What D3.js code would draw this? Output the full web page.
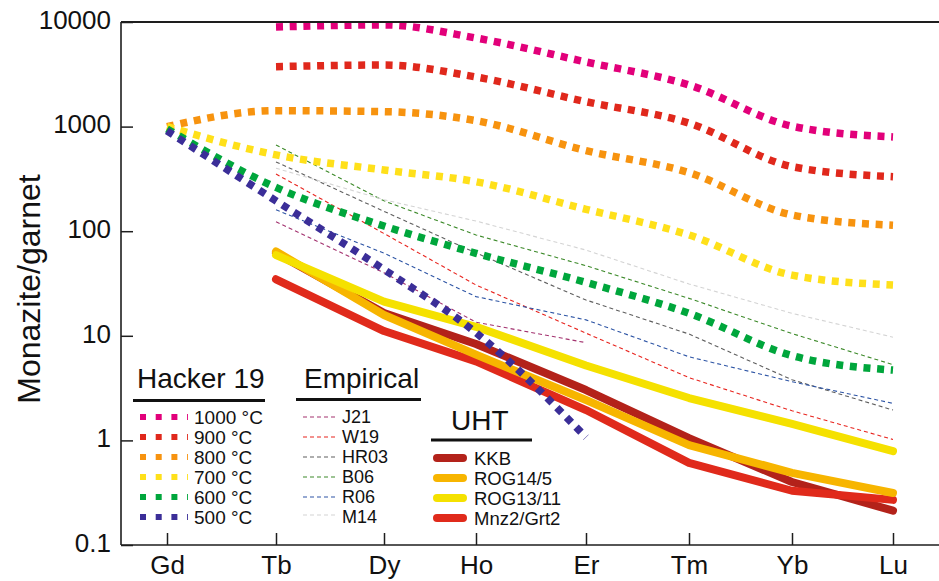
<!DOCTYPE html>
<html>
<head>
<meta charset="utf-8">
<script src="https://cdn.jsdelivr.net/npm/d3@7/dist/d3.min.js"></script>
<style>
  html, body { margin: 0; padding: 0; background: #fff; }
  svg { display: block; font-family: "Liberation Sans", Arial, Helvetica, sans-serif; }
</style>
</head>
<body>
<script>
// ---------------- DATA ----------------
const elements = ["Gd", "Tb", "Dy", "Ho", "Er", "Tm", "Yb", "Lu"];
const yTickValues = [0.1, 1, 10, 100, 1000, 10000];
const yTickLabels = ["0.1", "1", "10", "100", "1000", "10000"];

// Hacker 19 (dotted)
const hackerNames = ["1000 °C", "900 °C", "800 °C", "700 °C", "600 °C", "500 °C"];
const hackerColors = ["#e2007a", "#e0281c", "#f7930f", "#ffe01a", "#00a63c", "#3b2e98"];
const h1000 = [null, 8960, 9380, 7030, 4150, 2500, 1010, 796];
const h900  = [null, 3740, 3880, 2980, 1730, 1080, 414, 332];
const h800  = [1000, 1420, 1390, 1140, 589, 363, 143, 114];
const h700  = [1000, 536, 385, 297, 162, 92, 38, 30.6];
const h600  = [950, 262, 112, 61.5, 32.4, 16.4, 6.46, 4.7];
const h500  = [910, 195, 43, 10.7, 1.07, null, null, null];
const hackerValues = [h1000, h900, h800, h700, h600, h500];

// Empirical (thin dashed)
const empNames = ["J21", "W19", "HR03", "B06", "R06", "M14"];
const empColors = ["#a3326f", "#e8251f", "#5f5f5f", "#3d8a2a", "#2e55a5", "#d4d4d4"];
const eJ21  = [null, 123, 40, 13.5, 8.6, null, null, null];
const eW19  = [null, 352, 95, 30.6, 10.6, 3.98, 1.92, 1.02];
const eHR03 = [null, 460, 155, 62, 22, 10.4, 3.8, 1.95];
const eB06  = [null, 667, 195, 92, 46.8, 22.8, 10.5, 5.3];
const eR06  = [null, 160, 61.6, 23.7, 14.2, 6.3, 3.64, 2.26];
const eM14  = [null, 400, 200, 125, 66, 31.3, 16.4, 9.7];
const empValues = [eJ21, eW19, eHR03, eB06, eR06, eM14];

// UHT (thick solid)
const uhtNames = ["KKB", "ROG14/5", "ROG13/11", "Mnz2/Grt2"];
const uhtColors = ["#b3221a", "#f7b500", "#f5e100", "#e02a1b"];
const uKKB  = [null, 62, 16.5, 8.35, 3.03, 1.05, 0.40, 0.213];
const uR145 = [null, 64, 15.8, 6.6, 2.43, 0.90, 0.49, 0.314];
const uR1311= [null, 59, 21.2, 12.2, 5.2, 2.54, 1.44, 0.79];
const uMnz2 = [null, 34.7, 11.1, 5.7, 1.95, 0.61, 0.33, 0.27];
const uhtValues = [uKKB, uR145, uR1311, uMnz2];

// ---------------- LAYOUT ----------------
const W = 939, H = 581;
const plotLeft = 121, plotTop = 22, plotBottom = 545, plotRight = 939;
const tickX = [167, 276, 384, 476, 586, 689, 792, 893];
const FONT = '"Liberation Sans", Arial, Helvetica, sans-serif';
const AXIS_COLOR = "#1e1e1e";

const svg = d3.select("body").append("svg").attr("width", W).attr("height", H);

const x = d3.scaleOrdinal().domain(elements).range(tickX);
const y = d3.scaleLog().domain([0.1, 10000]).range([plotBottom, plotTop]);

const toPts = vals => elements.map((e, i) => ({ e, v: vals[i] }));
const lineLinear = d3.line().defined(d => d.v != null).x(d => x(d.e)).y(d => y(d.v));
const lineSmooth = d3.line().defined(d => d.v != null).x(d => x(d.e)).y(d => y(d.v)).curve(d3.curveMonotoneX);

// ---- Empirical lines ----
const gEmp = svg.append("g");
empValues.forEach((vals, i) => {
  gEmp.append("path").datum(toPts(vals))
    .attr("d", lineLinear)
    .attr("fill", "none")
    .attr("stroke", empColors[i])
    .attr("stroke-width", 1.1)
    .attr("stroke-dasharray", "4,3");
});

// ---- UHT lines ----
const gUht = svg.append("g");
[0, 3, 1, 2].forEach(i => {
  gUht.append("path").datum(toPts(uhtValues[i]))
    .attr("d", lineLinear)
    .attr("fill", "none")
    .attr("stroke", uhtColors[i])
    .attr("stroke-width", 8)
    .attr("stroke-linecap", "round")
    .attr("stroke-linejoin", "round");
});

// ---- Hacker dotted lines ----
const gHack = svg.append("g");
hackerValues.forEach((vals, i) => {
  gHack.append("path").datum(toPts(vals))
    .attr("d", lineSmooth)
    .attr("fill", "none")
    .attr("stroke", hackerColors[i])
    .attr("stroke-width", 7.5)
    .attr("stroke-dasharray", "7,6.7");
});

// ---- Axes ----
const yAxis = d3.axisLeft(y)
  .tickValues(yTickValues)
  .tickFormat((d, i) => yTickLabels[i])
  .tickSizeInner(-12).tickSizeOuter(0).tickPadding(10);
const gy = svg.append("g").attr("transform", `translate(${plotLeft},0)`).call(yAxis);
gy.select(".domain").remove();
gy.selectAll(".tick line").attr("stroke", AXIS_COLOR).attr("stroke-width", 1.5);
gy.selectAll(".tick text").attr("font-size", 26).attr("font-family", FONT).attr("fill", "#111").attr("dy", "0.24em");

const xAxis = d3.axisBottom(x).tickSizeInner(-12).tickSizeOuter(0).tickPadding(11);
const gx = svg.append("g").attr("transform", `translate(0,${plotBottom})`).call(xAxis);
gx.select(".domain").remove();
gx.selectAll(".tick line").attr("stroke", AXIS_COLOR).attr("stroke-width", 1.5);
gx.selectAll(".tick text").attr("font-size", 26).attr("font-family", FONT).attr("fill", "#111");

// frame lines (left, bottom, top)
svg.append("line").attr("x1", plotLeft).attr("x2", plotLeft).attr("y1", plotTop).attr("y2", plotBottom)
  .attr("stroke", AXIS_COLOR).attr("stroke-width", 1.6);
svg.append("line").attr("x1", plotLeft).attr("x2", plotRight).attr("y1", plotBottom).attr("y2", plotBottom)
  .attr("stroke", AXIS_COLOR).attr("stroke-width", 1.6);
svg.append("line").attr("x1", plotLeft).attr("x2", plotRight).attr("y1", plotTop).attr("y2", plotTop)
  .attr("stroke", AXIS_COLOR).attr("stroke-width", 2);

// y title
svg.append("text")
  .attr("transform", "translate(40,289) rotate(-90)")
  .attr("text-anchor", "middle")
  .attr("font-size", 32).attr("font-family", FONT).attr("fill", "#111")
  .text("Monazite/garnet");

// ---------------- LEGENDS ----------------
function legendTitle(txt, tx, ty, ux1, ux2, uy) {
  svg.append("text").attr("x", tx).attr("y", ty)
    .attr("font-size", 28).attr("font-family", FONT).attr("fill", "#111").text(txt);
  svg.append("line").attr("x1", ux1).attr("x2", ux2).attr("y1", uy).attr("y2", uy)
    .attr("stroke", "#111").attr("stroke-width", 3);
}

// Hacker 19
legendTitle("Hacker 19", 137, 388, 133, 265, 400.5);
const hackRowY = [417, 437, 457, 477, 497, 517];
hackerNames.forEach((n, i) => {
  svg.append("line").attr("x1", 140).attr("x2", 188).attr("y1", hackRowY[i]).attr("y2", hackRowY[i])
    .attr("stroke", hackerColors[i]).attr("stroke-width", 6).attr("stroke-dasharray", "6,9.7");
  svg.append("text").attr("x", 194).attr("y", hackRowY[i] + 6.5)
    .attr("font-size", 19).attr("font-family", FONT).attr("fill", "#111").text(n);
});

// Empirical
legendTitle("Empirical", 304, 388, 296, 421, 399.5);
const empRowY = [417, 437, 457, 477, 497, 515];
const empTextY = [423, 443, 463, 483, 503, 523];
empNames.forEach((n, i) => {
  svg.append("line").attr("x1", 303).attr("x2", 335).attr("y1", empRowY[i]).attr("y2", empRowY[i])
    .attr("stroke", empColors[i]).attr("stroke-width", 1.2).attr("stroke-dasharray", "4,3");
  svg.append("text").attr("x", 342).attr("y", empTextY[i])
    .attr("font-size", 18).attr("font-family", FONT).attr("fill", "#111").text(n);
});

// UHT
legendTitle("UHT", 451, 430, 431, 532, 440);
const uhtRowY = [458, 478, 498, 518];
uhtNames.forEach((n, i) => {
  svg.append("line").attr("x1", 437).attr("x2", 463).attr("y1", uhtRowY[i]).attr("y2", uhtRowY[i])
    .attr("stroke", uhtColors[i]).attr("stroke-width", 8).attr("stroke-linecap", "round");
  svg.append("text").attr("x", 474).attr("y", uhtRowY[i] + 6.5)
    .attr("font-size", 18.5).attr("font-family", FONT).attr("fill", "#111").text(n);
});
</script>
</body>
</html>
